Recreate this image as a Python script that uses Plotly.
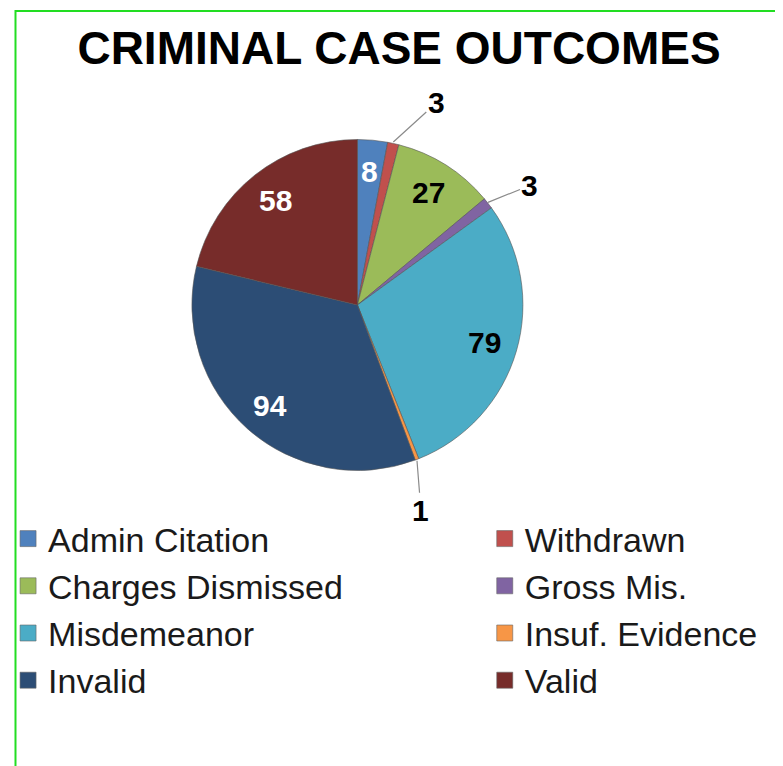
import math
import plotly.graph_objects as go

categories = ["Admin Citation", "Withdrawn", "Charges Dismissed", "Gross Mis.",
              "Misdemeanor", "Insuf. Evidence", "Invalid", "Valid"]
counts = [8, 3, 27, 3, 79, 1, 94, 58]
colors = ["#4F81BD", "#C0504D", "#9BBB59", "#8064A2",
          "#4BACC6", "#F79646", "#2C4D75", "#772C2A"]

# label styling (not data): inside labels sit at 0.8 r, small slices get leader lines
label_colors = ["white", "black", "black", "black", "black", "black", "white", "white"]
leader_offsets = {"Withdrawn": (43, -39), "Gross Mis.": (42, -17), "Insuf. Evidence": (4, 50)}

W, H = 783, 766
OFF = 8                      # page body margin offsets the whole figure
cx, cy, r = 353.5 - OFF, 305 - OFF, 167   # pie centre/radius in figure pixels

def px_to_paper(x, y):
    return x / W, 1 - y / H

fig = go.Figure()
fig.add_trace(go.Pie(
    labels=categories,
    values=counts,
    marker=dict(colors=colors, line=dict(color="#555555", width=0.6)),
    sort=False,
    direction="clockwise",
    rotation=0,
    textinfo="none",
    domain=dict(x=[(cx - r) / W, (cx + r) / W], y=[(H - cy - r) / H, (H - cy + r) / H]),
    hoverinfo="label+value",
    showlegend=False,
))

# value labels, positioned from the cumulative share of each slice
total = sum(counts)
annotations = []
cum = 0
for cat, val, tcol in zip(categories, counts, label_colors):
    mid = (cum + val / 2) / total * 2 * math.pi
    cum += val
    sx, sy = math.sin(mid), math.cos(mid)
    if cat in leader_offsets:
        ex, ey = px_to_paper(cx + r * sx, cy - r * sy)
        ax, ay = leader_offsets[cat]
        annotations.append(dict(
            x=ex, y=ey, xref="paper", yref="paper", text=f"<b>{val}</b>",
            showarrow=True, arrowhead=0, arrowwidth=1.2, arrowcolor="#8a8a8a",
            ax=ax, ay=ay, standoff=0,
            font=dict(family="Liberation Sans", size=30, color="black")))
    else:
        lx, ly = px_to_paper(cx + 0.8 * r * sx, cy - 0.8 * r * sy)
        annotations.append(dict(
            x=lx, y=ly, xref="paper", yref="paper", text=f"<b>{val}</b>",
            showarrow=False, xanchor="center", yanchor="middle",
            font=dict(family="Liberation Sans", size=30, color=tcol)))

# legend entries (two columns, row-major order as in the reference)
for i, (cat, col) in enumerate(zip(categories, colors)):
    fig.add_trace(go.Scatter(
        x=[None], y=[None], mode="markers", name=cat,
        marker=dict(symbol="square", size=16, color=col, line=dict(color="#666666", width=0.6)),
        legend="legend" if i % 2 == 0 else "legend2",
        hoverinfo="skip",
    ))

legend_font = dict(family="Liberation Sans", size=34, color="#1a1a1a")
fig.update_layout(
    width=W, height=H,
    margin=dict(l=0, r=0, t=0, b=0),
    paper_bgcolor="white",
    plot_bgcolor="white",
    xaxis=dict(visible=False),
    yaxis=dict(visible=False),
    title=dict(text="<b>CRIMINAL CASE OUTCOMES</b>", x=391 / W, xanchor="center",
               y=1 - 40 / H, yanchor="middle", yref="container",
               font=dict(family="Liberation Sans", size=46, color="black")),
    annotations=annotations,
    legend=dict(x=-7 / W, xanchor="left", y=1 - 502 / H, yanchor="top",
                font=legend_font, bgcolor="rgba(0,0,0,0)", traceorder="normal"),
    legend2=dict(x=474 / W, xanchor="left", y=1 - 502 / H, yanchor="top",
                 font=legend_font, bgcolor="rgba(0,0,0,0)", traceorder="normal"),
    shapes=[dict(type="rect", xref="paper", yref="paper",
                 x0=0.5 / W, x1=1.02, y0=-0.02, y1=1 - 3 / H,
                 line=dict(color="#22DD22", width=2))],
)

fig.write_html("out.html")
